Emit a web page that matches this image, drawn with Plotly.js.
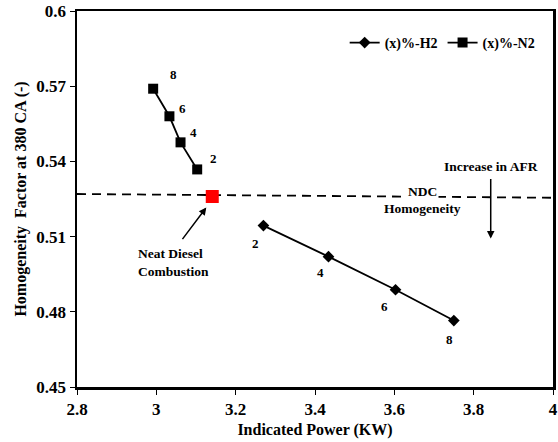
<!DOCTYPE html>
<html><head><meta charset="utf-8">
<script src="https://cdn.plot.ly/plotly-3.0.1.min.js"></script>
<style>body{margin:0;background:#fff}#c{width:558px;height:442px}</style>
</head><body><div id="c"></div>
<script>
var h2Power = [3.27, 3.434, 3.603, 3.75];
var h2Homog = [0.5144, 0.502, 0.4888, 0.4765];
var n2Power = [2.992, 3.033, 3.061, 3.103];
var n2Homog = [0.569, 0.558, 0.5476, 0.5368];
var h2Labels = ["2", "4", "6", "8"];
var n2Labels = ["8", "6", "4", "2"];
var ndcPower = [3.141];
var ndcHomog = [0.526];
var ndcLine = [0.527, 0.5255];
var ndcLineX = [2.8, 4];

var F = "Liberation Serif, Times New Roman, serif";
var traces = [
  {x: h2Power, y: h2Homog, mode: "lines+markers", name: "(x)%-H2",
   line: {color: "#000", width: 1.8}, marker: {symbol: "diamond", size: 9, color: "#000"}},
  {x: n2Power, y: n2Homog, mode: "lines+markers", name: "(x)%-N2",
   line: {color: "#000", width: 1.8}, marker: {symbol: "square", size: 10, color: "#000"}},
  {x: ndcLineX, y: ndcLine, mode: "lines", showlegend: false,
   line: {color: "#000", width: 1.8, dash: "9px,6px"}},
  {x: ndcPower, y: ndcHomog, mode: "markers", showlegend: false,
   marker: {symbol: "square", size: 13, color: "#ff0000"}}
];

var ann = [];
var lf = {family: F, size: 13.5, color: "#000", weight: "bold"};
var nf = {family: F, size: 13, color: "#000", weight: "bold"};
var h2Off = [[-8, 18], [-8, 16], [-11, 17], [-4, 19]];
h2Power.forEach(function(v, i) {
  ann.push({x: v, y: h2Homog[i], text: h2Labels[i], showarrow: false, xshift: h2Off[i][0], yshift: -h2Off[i][1], font: nf});
});
var n2Off = [[20, 14], [13, 8], [13, 10], [16, 11]];
n2Power.forEach(function(v, i) {
  ann.push({x: v, y: n2Homog[i], text: n2Labels[i], showarrow: false, xshift: n2Off[i][0], yshift: n2Off[i][1], font: nf});
});
ann.push({x: 3.126, y: 0.5216, ax: 3.063, ay: 0.5084, axref: "x", ayref: "y", showarrow: true, arrowhead: 2,
  arrowsize: 1, arrowwidth: 1.5, arrowcolor: "#000", text: ""});
ann.push({x: 3.043, y: 0.4998, text: "Neat Diesel<br>Combustion", showarrow: false, align: "left", font: lf});
ann.push({x: 3.843, y: 0.5378, text: "Increase in AFR", showarrow: false, font: lf});
ann.push({x: 3.843, y: 0.5092, ax: 3.843, ay: 0.5336, axref: "x", ayref: "y", showarrow: true, arrowhead: 2,
  arrowsize: 1, arrowwidth: 1.5, arrowcolor: "#000", text: ""});
ann.push({x: 3.671, y: 0.5278, text: "NDC", showarrow: false, bgcolor: "#fff", font: lf});
ann.push({x: 3.671, y: 0.5212, text: "Homogeneity", showarrow: false, font: lf});

var layout = {
  width: 558, height: 442,
  margin: {l: 77, r: 5, t: 11, b: 55},
  paper_bgcolor: "#fff", plot_bgcolor: "#fff",
  showlegend: true,
  legend: {orientation: "h", x: 0.972, xanchor: "right", y: 0.915, yanchor: "middle",
    font: {family: F, size: 14, color: "#000", weight: "bold"}, bgcolor: "rgba(0,0,0,0)",
    itemwidth: 30, tracegroupgap: 0},
  xaxis: {range: [2.8, 4], dtick: 0.2, tick0: 2.8, showgrid: false, zeroline: false,
    showline: true, mirror: true, linecolor: "#000", linewidth: 2.5,
    ticks: "outside", ticklen: 5, tickcolor: "#000",
    tickfont: {family: F, size: 17, color: "#000", weight: "bold"},
    title: {text: "Indicated Power (KW)", standoff: 6, font: {family: F, size: 16, color: "#000", weight: "bold"}}},
  yaxis: {range: [0.45, 0.6], dtick: 0.03, tick0: 0.45, showgrid: false, zeroline: false,
    showline: true, mirror: true, linecolor: "#000", linewidth: 2.5,
    ticks: "outside", ticklen: 5, tickcolor: "#000",
    tickfont: {family: F, size: 17, color: "#000", weight: "bold"},
    title: {text: "Homogeneity  Factor at 380 CA (-)", standoff: 6, font: {family: F, size: 16, color: "#000", weight: "bold"}}},
  annotations: ann
};
Plotly.newPlot("c", traces, layout, {displayModeBar: false, staticPlot: true});
</script></body></html>
